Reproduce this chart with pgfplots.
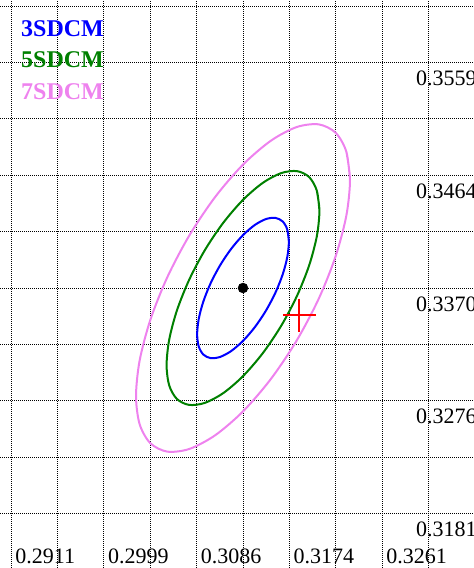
\documentclass[border=0pt]{standalone}
\usepackage{pgfplots}
\pgfplotsset{compat=1.18}
\usepackage{fontspec}
\setmainfont{Liberation Serif}
\definecolor{violetc}{RGB}{238,130,238}
\definecolor{greenc}{RGB}{0,128,0}
\begin{document}
\begin{tikzpicture}
\useasboundingbox (0,0) rectangle (474pt,568pt);
\clip (0,0) rectangle (474pt,568pt);
\begin{axis}[
  at={(0,0)}, anchor=south west,
  width=474pt, height=568pt, scale only axis,
  xmin=0.290075, xmax=0.334792, ymin=0.313532, ymax=0.361139,
  axis line style={draw=none},
  xtick={0.291125,0.2955,0.299875,0.30425,0.308625,0.313,0.317375,0.32175,0.326125,0.3305},
  ytick={0.3181,0.322825,0.32755,0.332275,0.337,0.341725,0.34645,0.351175,0.3559,0.360625},
  xticklabels={}, yticklabels={},
  major tick length=0pt,
  grid=major,
  major grid style={black, line width=1pt, dash pattern=on 1pt off 1pt},
  clip mode=individual,
]
% 7 SDCM
\addplot[violetc, line width=2pt, smooth] coordinates {
(0.323094,0.346055) (0.322750,0.348423) (0.321741,0.350012) (0.320138,0.350716)
(0.318047,0.350485) (0.315612,0.349334) (0.313000,0.347343) (0.310388,0.344647)
(0.307953,0.341430) (0.305862,0.337911) (0.304259,0.334331) (0.303250,0.330931)
(0.302906,0.327945) (0.303250,0.325577) (0.304259,0.323988) (0.305862,0.323284)
(0.307953,0.323515) (0.310388,0.324666) (0.313000,0.326657) (0.315612,0.329353)
(0.318047,0.332570) (0.320138,0.336089) (0.321741,0.339669) (0.322750,0.343069)
(0.323094,0.346055) (0.322750,0.348423)};
% 5 SDCM
\addplot[greenc, line width=2pt, smooth] coordinates {
(0.320210,0.343468) (0.319964,0.345160) (0.319244,0.346295) (0.318098,0.346797)
(0.316605,0.346632) (0.314866,0.345811) (0.313000,0.344388) (0.311134,0.342462)
(0.309395,0.340165) (0.307902,0.337651) (0.306756,0.335093) (0.306036,0.332665)
(0.305790,0.330532) (0.306036,0.328840) (0.306756,0.327705) (0.307902,0.327203)
(0.309395,0.327368) (0.311134,0.328189) (0.313000,0.329612) (0.314866,0.331538)
(0.316605,0.333835) (0.318098,0.336349) (0.319244,0.338907) (0.319964,0.341335)
(0.320210,0.343468) (0.319964,0.345160)};
% 3 SDCM
\addplot[blue, line width=2pt, smooth] coordinates {
(0.317326,0.340880) (0.317178,0.341895) (0.316746,0.342576) (0.316059,0.342878)
(0.315163,0.342779) (0.314120,0.342286) (0.313000,0.341432) (0.311880,0.340277)
(0.310837,0.338899) (0.309941,0.337391) (0.309254,0.335856) (0.308822,0.334399)
(0.308674,0.333120) (0.308822,0.332105) (0.309254,0.331424) (0.309941,0.331122)
(0.310837,0.331221) (0.311880,0.331714) (0.313000,0.332568) (0.314120,0.333723)
(0.315163,0.335101) (0.316059,0.336609) (0.316746,0.338144) (0.317178,0.339601)
(0.317326,0.340880) (0.317178,0.341895)};
% center and test point
\addplot[only marks, mark=*, mark size=5pt, black] coordinates {(0.313,0.337)};
\addplot[only marks, mark=+, mark size=16.5pt, red, line width=2pt] coordinates {(0.31831,0.334737)};
% tick labels
\foreach \xv/\lab in {0.291125/0.2911, 0.299875/0.2999, 0.308625/0.3086, 0.317375/0.3174, 0.326125/0.3261}{
  \edef\tmp{\noexpand\node[anchor=base west, inner sep=0pt, xshift=4pt, yshift=5pt, font=\noexpand\fontsize{22}{22}\noexpand\selectfont] at (axis cs:\xv,0.313532) {\lab};}
  \tmp
}
\foreach \yv/\lab in {0.3559/0.3559, 0.34645/0.3464, 0.337/0.3370, 0.32755/0.3276, 0.3181/0.3181}{
  \edef\tmp{\noexpand\node[anchor=base west, inner sep=0pt, xshift=-12.5pt, yshift=-23pt, font=\noexpand\fontsize{22}{22}\noexpand\selectfont] at (axis cs:0.3305,\yv) {\lab};}
  \tmp
}
\node[anchor=base west, inner sep=0pt, xshift=21pt, yshift=-37pt, text=blue, font=\bfseries\fontsize{24}{24}\selectfont] at (rel axis cs:0,1) {3SDCM};
\node[anchor=base west, inner sep=0pt, xshift=21pt, yshift=-68pt, text=greenc, font=\bfseries\fontsize{24}{24}\selectfont] at (rel axis cs:0,1) {5SDCM};
\node[anchor=base west, inner sep=0pt, xshift=21pt, yshift=-100pt, text=violetc, font=\bfseries\fontsize{24}{24}\selectfont] at (rel axis cs:0,1) {7SDCM};
\end{axis}
\end{tikzpicture}
\end{document}
